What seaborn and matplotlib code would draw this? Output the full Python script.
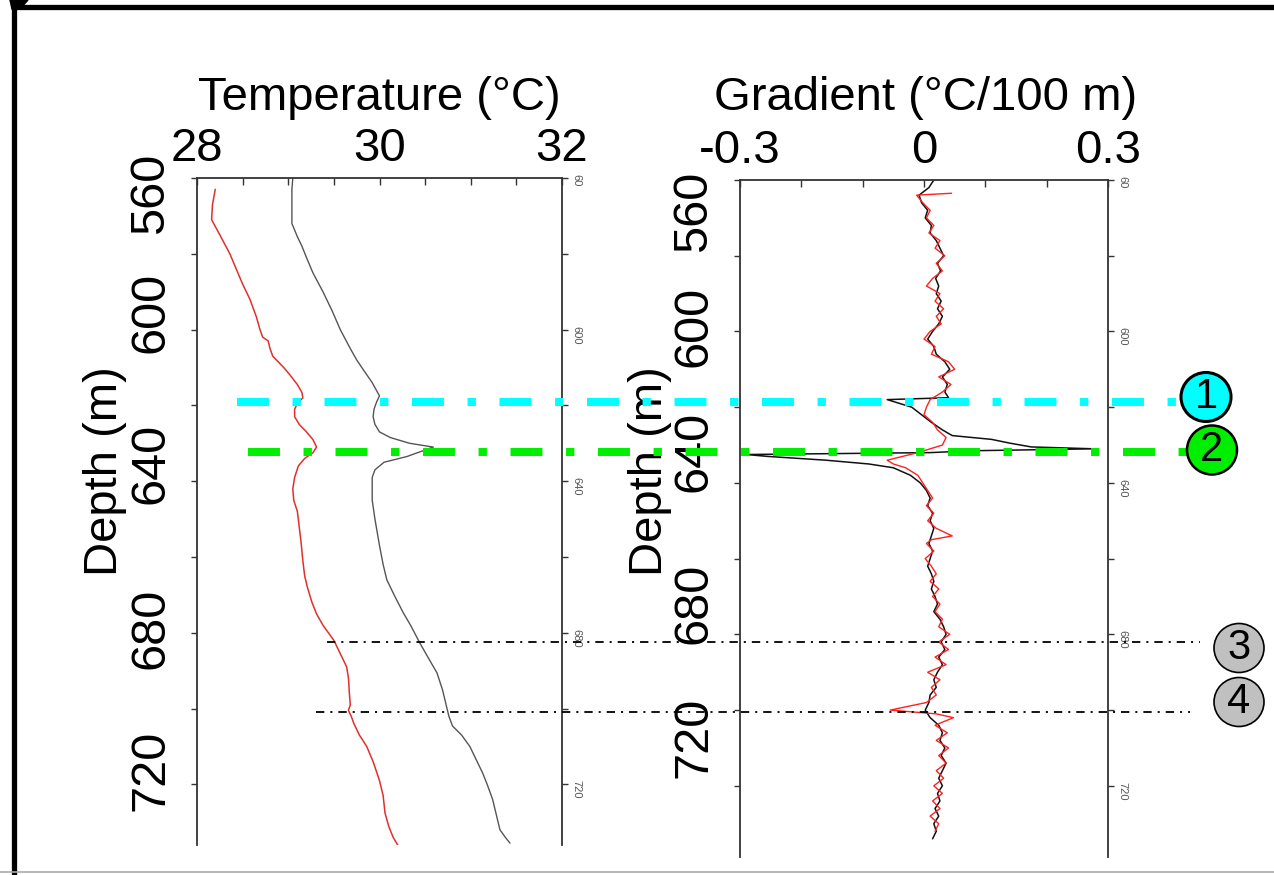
import matplotlib
matplotlib.use("Agg")
import matplotlib.pyplot as plt
import seaborn as sns
from matplotlib import transforms
from matplotlib.lines import Line2D
from matplotlib.patches import Ellipse, Polygon

# ---- data read off the scanned logs ----
# temperature (deg C) vs depth (m), two logging runs
temp_red_depth = [563, 567, 571, 575, 580, 584, 588, 592, 596.6, 600, 602, 603, 605, 607,
                  610, 612, 614.5, 616.6, 618, 619.5, 621, 623, 625, 627, 629, 631, 632.5,
                  634, 636, 639, 642, 645, 648, 652, 656, 661, 665, 668, 672, 675, 678,
                  682, 686, 689, 692, 696, 699, 700.5, 702, 704, 707, 710, 714, 719, 723,
                  727.5, 731, 734, 736]
temp_red = [28.20, 28.17, 28.16, 28.25, 28.36, 28.43, 28.50, 28.58, 28.65, 28.69, 28.72,
            28.78, 28.80, 28.83, 28.95, 29.02, 29.10, 29.15, 29.16, 29.10, 29.07, 29.07,
            29.12, 29.20, 29.27, 29.31, 29.27, 29.18, 29.11, 29.07, 29.05, 29.06, 29.10,
            29.12, 29.14, 29.16, 29.18, 29.21, 29.26, 29.31, 29.38, 29.50, 29.58, 29.64,
            29.66, 29.67, 29.68, 29.66, 29.69, 29.72, 29.78, 29.86, 29.93, 30.00, 30.04,
            30.06, 30.10, 30.15, 30.20]

temp_black_depth = [560, 563, 568, 572, 575.5, 578, 581, 585, 590, 595, 600, 605, 608,
                    610.5, 614, 617.5, 619, 621, 623, 625, 627, 628.5, 630, 631, 632.2,
                    633.5, 635, 637, 639, 642, 645, 650, 657, 662, 666, 670, 674.7, 678,
                    682.6, 686, 690.6, 695, 700, 702, 704.6, 707, 710, 714, 717, 720, 724,
                    728, 732, 734, 735.5]
temp_black = [29.05, 29.04, 29.04, 29.04, 29.10, 29.15, 29.20, 29.27, 29.38, 29.48, 29.57,
              29.68, 29.75, 29.82, 29.92, 30.00, 29.97, 29.94, 29.93, 29.95, 30.00, 30.12,
              30.33, 30.59, 30.45, 30.30, 30.05, 29.95, 29.92, 29.92, 29.92, 29.95, 30.00,
              30.04, 30.08, 30.16, 30.26, 30.34, 30.44, 30.52, 30.63, 30.69, 30.74, 30.76,
              30.80, 30.90, 30.99, 31.07, 31.13, 31.18, 31.24, 31.28, 31.32, 31.38, 31.43]

# gradient (deg C / 100 m) vs depth (m)
grad_black_depth = [560, 562, 564, 566, 568, 570, 572, 574, 576, 578, 580, 582, 584, 586,
                    588, 590, 592, 594, 596, 598, 600, 602, 604, 606, 608, 610, 612, 614,
                    616, 617.5, 618, 620, 622, 624, 626, 627.5, 628.5, 629.5, 630.5, 631,
                    631.5, 632, 632.5, 633, 634, 635, 636, 638, 640, 642, 644, 646, 648,
                    650, 652, 654, 656, 658, 660, 662, 664, 666, 668, 670, 672, 674, 676,
                    678, 680, 682, 684, 686, 688, 690, 692, 694, 696, 698, 700, 702, 704,
                    706, 708, 710, 712, 714, 716, 718, 720, 722, 724, 726, 728, 730, 732, 734]
grad_black = [0.016, 0.008, -0.008, -0.004, 0.006, 0.002, 0.012, 0.010, 0.020, 0.026,
              0.032, 0.022, 0.027, 0.019, 0.024, 0.020, 0.028, 0.022, 0.030, 0.024, 0.014,
              0.006, 0.016, 0.020, 0.034, 0.042, 0.030, 0.038, 0.034, 0.040, -0.060, -0.020,
              -0.004, 0.012, 0.030, 0.046, 0.110, 0.140, 0.175, 0.278, 0.080, 0.010, -0.290,
              -0.255, -0.160, -0.090, -0.050, -0.022, -0.006, 0.004, 0.010, 0.006, 0.014,
              0.010, 0.016, 0.012, 0.008, 0.014, 0.010, 0.006, 0.012, 0.016, 0.012, 0.018,
              0.022, 0.016, 0.026, 0.032, 0.036, 0.028, 0.034, 0.024, 0.030, 0.022, 0.016,
              0.020, 0.010, 0.008, 0.002, 0.010, 0.024, 0.030, 0.026, 0.034, 0.028, 0.036,
              0.030, 0.024, 0.030, 0.022, 0.026, 0.018, 0.024, 0.016, 0.020, 0.014]

grad_red_depth = [563.5, 564, 566, 568, 570, 572, 574, 576, 578, 580, 582, 584, 586, 588,
                  590, 592, 594, 596, 598, 600, 602, 604, 606, 608, 610, 612, 614, 616, 618,
                  620, 622, 624, 626, 628, 630, 632, 634, 635, 636, 638, 640, 642, 644, 646,
                  648, 650, 652, 654, 655, 656, 658, 660, 662, 664, 666, 668, 670, 672, 674,
                  676, 678, 680, 682, 684, 686, 688, 690, 692, 694, 696, 698, 700, 701, 702,
                  704, 706, 708, 710, 712, 714, 716, 718, 720, 722, 724, 726, 728, 730, 732]
grad_red = [0.045, -0.012, -0.002, 0.010, 0.004, 0.016, 0.008, 0.026, 0.018, 0.034, 0.020,
            0.030, 0.014, 0.004, 0.026, 0.018, 0.032, 0.020, 0.028, 0.010, 0.000, 0.018,
            0.012, 0.040, 0.050, 0.024, 0.044, 0.030, 0.010, 0.004, 0.000, 0.014, 0.022,
            0.036, 0.030, -0.010, -0.060, -0.050, -0.030, -0.010, -0.002, 0.006, 0.014,
            0.004, 0.016, 0.006, 0.020, 0.046, 0.012, 0.004, 0.016, 0.002, 0.012, 0.020,
            0.010, 0.024, 0.014, 0.026, 0.018, 0.030, 0.024, 0.042, 0.024, 0.040, 0.018,
            0.036, 0.006, 0.026, 0.012, 0.020, 0.004, -0.055, 0.020, 0.048, 0.018, 0.038,
            0.020, 0.040, 0.024, 0.036, 0.020, 0.032, 0.016, 0.030, 0.014, 0.026, 0.010,
            0.024, 0.018]

# big depth labels sit a little off the scanned tick marks in the original slide
depth_labels = ["560", "600", "640", "680", "720"]
temp_label_depths = [564.1, 595.5, 635.4, 678.9, 716.4]
grad_label_depths = [568.3, 598.7, 631.7, 671.8, 707.1]
scan_label_depths = [560, 600, 640, 680, 720]
scan_labels = ["60", "600", "640", "680", "720"]

# marked intervals
marker_depths = [619.0, 632.2, 682.4, 700.9]
marker_labels = ["1", "2", "3", "4"]

W, H = 1274, 875
def fx(x):
    return x / W
def fy(y):
    return 1 - y / H

sns.set_theme(style="white")
plt.rcParams["font.family"] = ["Liberation Sans", "DejaVu Sans"]
plt.rcParams["lines.scale_dashes"] = False
for k in ("text.color", "axes.labelcolor", "xtick.labelcolor", "ytick.labelcolor"):
    plt.rcParams[k] = "black"
FS = 34

fig = plt.figure(figsize=(W / 100, H / 100), dpi=100)
ax_t = fig.add_axes([fx(197), fy(845), fx(562) - fx(197), fy(178) - fy(845)])
ax_g = fig.add_axes([fx(740), fy(857), fx(1108) - fx(740), fy(180) - fy(857)])

sns.lineplot(x=temp_red, y=temp_red_depth, orient="y", sort=False, estimator=None,
             color="#e0302c", lw=1.1, ax=ax_t)
sns.lineplot(x=temp_black, y=temp_black_depth, orient="y", sort=False, estimator=None,
             color="#555555", lw=1.0, ax=ax_t)
sns.lineplot(x=grad_black, y=grad_black_depth, orient="y", sort=False, estimator=None,
             color="#111111", lw=1.1, ax=ax_g)
sns.lineplot(x=grad_red, y=grad_red_depth, orient="y", sort=False, estimator=None,
             color="#ff2020", lw=1.0, ax=ax_g)

ax_t.set_xlim(28, 32)
ax_t.set_ylim(736, 560)
ax_g.set_xlim(-0.3, 0.3)
ax_g.set_ylim(738.8, 560.4)

ax_t.set_xticks([28, 29, 30, 31, 32], labels=["28", "", "30", "", "32"])
ax_t.set_xticks([28.5, 29.5, 30.5, 31.5], minor=True)
ax_g.set_xticks([-0.3, -0.2, -0.1, 0, 0.1, 0.2, 0.3],
                labels=["-0.3", "", "", "0", "", "", "0.3"])

for ax, lab_depths in ((ax_t, temp_label_depths), (ax_g, grad_label_depths)):
    ax.set_facecolor("white")
    ax.spines["bottom"].set_visible(False)
    for s in ("top", "left", "right"):
        ax.spines[s].set_color("#333333")
        ax.spines[s].set_linewidth(1.3)
    ax.xaxis.tick_top()
    ax.tick_params(axis="x", which="both", direction="in", length=5, width=1,
                   color="#333333", pad=5, labelsize=FS)
    ax.set_xlabel("")
    ax.set_yticks(lab_depths, labels=depth_labels)
    ax.set_yticks(list(range(560, 740, 20)), minor=True)
    ax.tick_params(axis="y", which="major", length=0, pad=17, labelsize=35, left=True)
    ax.tick_params(axis="y", which="minor", direction="out", length=4, width=1,
                   color="#333333", left=True)
    for lab in ax.get_yticklabels():
        lab.set_rotation(90)
        lab.set_va("center")
    ax.set_ylabel("Depth (m)", fontsize=FS)
    sec = ax.secondary_yaxis("right")
    sec.set_yticks(scan_label_depths, labels=scan_labels)
    sec.set_yticks([580, 620, 660, 700], minor=True)
    sec.tick_params(which="both", direction="out", length=4, width=1, color="#333333",
                    labelsize=8, labelcolor="#555555", labelrotation=-90, pad=3)
    sec.spines["right"].set_visible(False)

ax_t.yaxis.set_label_coords(-0.192, 0.56)
ax_g.yaxis.set_label_coords(-0.185, 0.57)

fig.text(fx(379), fy(110), "Temperature (°C)", ha="center", va="baseline", fontsize=FS)
fig.text(fx(926), fy(110), "Gradient (°C/100 m)", ha="center", va="baseline", fontsize=FS)

# dash-dot marker lines spanning both panels
blend = transforms.blended_transform_factory(fig.transFigure, ax_t.transData)
line_specs = [
    (237, 1200, "#00ffff", 5.8, (23, 17, 6, 17)),
    (248, 1190, "#00ee00", 5.8, (23, 17, 6, 17)),
    (327, 1200, "black", 1.3, (6, 4.3, 1.5, 4.3)),
    (316, 1190, "black", 1.3, (6, 4.3, 1.5, 4.3)),
]
for d, (x0, x1, c, lw, dash) in zip(marker_depths, line_specs):
    fig.add_artist(Line2D([fx(x0), fx(x1)], [d, d], transform=blend, color=c, lw=lw,
                          dashes=dash, dash_capstyle="butt", zorder=5))

circle_specs = [(1206, 397, "#00ffff", 2.2), (1212, 450, "#00ee00", 1.8),
                (1239, 648, "#c0c0c0", 1.2), (1239, 702, "#c0c0c0", 1.2)]
for lab, (cx, cy, fc, ew) in zip(marker_labels, circle_specs):
    fig.add_artist(Ellipse((fx(cx), fy(cy)), 50 / W, 49 / H, transform=fig.transFigure,
                           facecolor=fc, edgecolor="black", lw=ew, zorder=6))
    fig.text(fx(cx), fy(cy), lab, ha="center", va="center", fontsize=30, zorder=7)

# outer frame of the original slide
fig.add_artist(Line2D([fx(14), fx(14)], [0, fy(7)], transform=fig.transFigure,
                      color="black", lw=3.8, solid_capstyle="projecting"))
fig.add_artist(Line2D([fx(14), 1.0], [fy(7), fy(7)], transform=fig.transFigure,
                      color="black", lw=3.8, solid_capstyle="projecting"))
fig.add_artist(Line2D([0, 1], [fy(872), fy(872)], transform=fig.transFigure,
                      color="#aaaaaa", lw=1.2))
fig.add_artist(Polygon([(fx(10), 1.0), (fx(28), 1.0), (fx(20), fy(9)), (fx(12), fy(9))],
                       closed=True, transform=fig.transFigure, color="black"))

fig.savefig("out.png", dpi=100, facecolor="white")
